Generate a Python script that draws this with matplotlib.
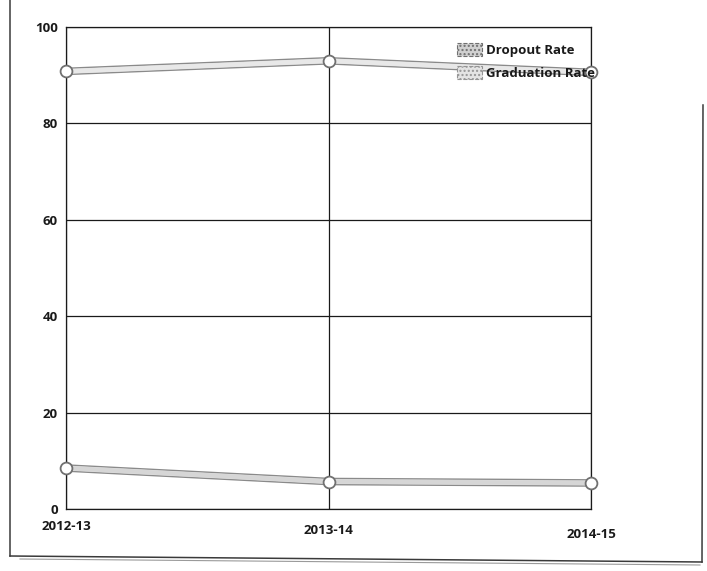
import matplotlib
matplotlib.use("Agg")
import matplotlib.pyplot as plt
import matplotlib.patheffects as pe
from matplotlib.patches import Patch
from matplotlib.lines import Line2D

# School years and rates (%)
years = ["2012-13", "2013-14", "2014-15"]
dropout_rate = [8.5, 5.7, 5.4]
graduation_rate = [90.8, 93.0, 90.6]
y_ticks = [0, 20, 40, 60, 80, 100]

FONT = ["Open Sans", "DejaVu Sans"]

fig = plt.figure(figsize=(7.07, 5.71), dpi=100)
fig.patch.set_facecolor("white")

ax = fig.add_axes([0.0934, 0.1086, 0.7426, 0.844])
x = list(range(len(years)))

line_fx = [pe.Stroke(linewidth=5.5, foreground="#8a8a8a"),
           pe.Stroke(linewidth=3.6, foreground="#e4e4e4"), pe.Normal()]

for values, shade in [(dropout_rate, "#d6d6d6"), (graduation_rate, "#e8e8e8")]:
    ax.plot(x, values, color=shade, linewidth=3.2, zorder=3,
            path_effects=line_fx, solid_capstyle="round")
    ax.plot(x, values, linestyle="none", marker="o", markersize=8.5,
            markerfacecolor="white", markeredgecolor="#707070",
            markeredgewidth=1.3, zorder=4, clip_on=False)

ax.set_xlim(0, len(years) - 1)
ax.set_ylim(0, 100)
ax.set_xticks(x)
ax.set_xticklabels(years)
ax.set_yticks(y_ticks)
ax.tick_params(axis="y", length=0, pad=6)
ax.tick_params(axis="x", length=0, pad=5.5)
for lab in ax.get_xticklabels() + ax.get_yticklabels():
    lab.set_family(FONT)
    lab.set_fontweight("bold")
    lab.set_fontsize(9.5)
    lab.set_color("#1a1a1a")
for i, lab in enumerate(ax.get_xticklabels()):
    lab.set_y(-0.006 - 0.009 * i)

ax.grid(True, color="#1a1a1a", linewidth=0.9)
ax.set_axisbelow(True)
for sp in ax.spines.values():
    sp.set_color("#1a1a1a")
    sp.set_linewidth(0.9)

handles = [
    Patch(facecolor="#d0d0d0", edgecolor="#707070", hatch="....",
          linestyle="--", linewidth=0.8, label="Dropout Rate"),
    Patch(facecolor="#e4e4e4", edgecolor="#959595", hatch="....",
          linestyle="--", linewidth=0.8, label="Graduation Rate"),
]
leg = ax.legend(handles=handles, loc="upper left", frameon=False,
                bbox_to_anchor=(0.745, 0.966), borderaxespad=0, borderpad=0,
                handlelength=1.9, handleheight=1.1, handletextpad=0.3,
                labelspacing=0.65,
                prop={"family": FONT, "size": 9.5, "weight": "bold"})
for t in leg.get_texts():
    t.set_color("#1a1a1a")

# page frame around the chart
fig.add_artist(Line2D([10 / 707, 10 / 707], [1.0, 1 - 556 / 571],
                      transform=fig.transFigure, color="#3a3a3a", linewidth=1.1))
fig.add_artist(Line2D([10 / 707, 702 / 707], [1 - 556 / 571, 1 - 562 / 571],
                      transform=fig.transFigure, color="#3a3a3a", linewidth=1.1))
fig.add_artist(Line2D([20 / 707, 700 / 707], [1 - 559 / 571, 1 - 565 / 571],
                      transform=fig.transFigure, color="#9a9a9a", linewidth=0.8))
fig.add_artist(Line2D([703 / 707, 702 / 707], [1 - 105 / 571, 1 - 562 / 571],
                      transform=fig.transFigure, color="#3a3a3a", linewidth=1.1))

fig.savefig("out.png", dpi=100, facecolor="white")
